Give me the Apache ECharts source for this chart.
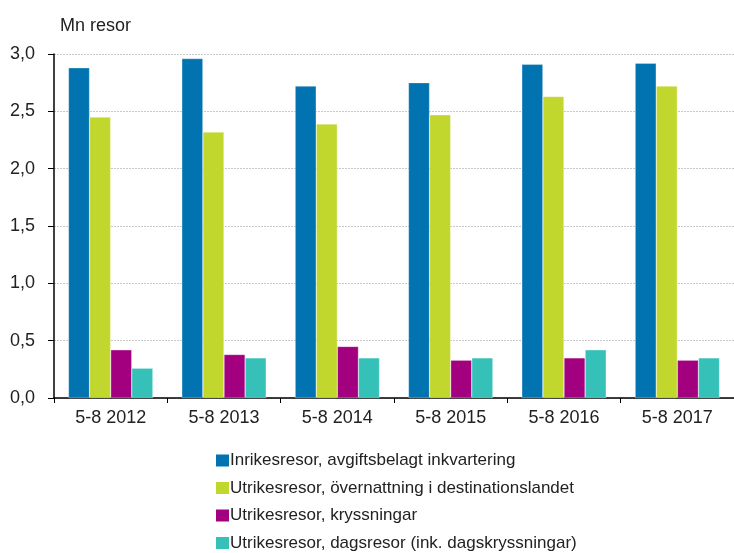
<!DOCTYPE html>
<html>
<head>
<meta charset="utf-8" />
<title></title>
<script src="https://cdn.jsdelivr.net/npm/echarts@6/dist/echarts.min.js"></script>
</head>
<body style="margin:0;background:#fff;">
<div id="chart" style="width:734px;height:553px;"></div>
<script>
var kategorier = ['5-8 2012', '5-8 2013', '5-8 2014', '5-8 2015', '5-8 2016', '5-8 2017'];
var inrikes = [2.88, 2.96, 2.72, 2.75, 2.91, 2.92];
var utrikesOvernattning = [2.45, 2.32, 2.39, 2.47, 2.63, 2.72];
var kryssningar = [0.42, 0.38, 0.45, 0.33, 0.35, 0.33];
var dagsresor = [0.26, 0.35, 0.35, 0.35, 0.42, 0.35];
var serieNamn = [
	'Inrikesresor, avgiftsbelagt inkvartering',
	'Utrikesresor, övernattning i destinationslandet',
	'Utrikesresor, kryssningar',
	'Utrikesresor, dagsresor (ink. dagskryssningar)'
];
var farger = ['#0073b0', '#c1d72e', '#a3007f', '#35c1b8'];

var myChart = echarts.init(document.getElementById('chart'));
var font = 'Liberation Sans, Arial, sans-serif';

function bar(i, data) {
	return {
		name: serieNamn[i],
		type: 'bar',
		data: data,
		barGap: '0%',
		barCategoryGap: '25.5%',
		itemStyle: { color: farger[i], borderColor: 'rgba(255,255,255,0.6)', borderWidth: 0.5 }
	};
}

var options = {
	animation: false,
	color: farger,
	textStyle: { fontFamily: font },
	title: {
		text: 'Mn resor',
		left: 55,
		top: 12,
		textStyle: { fontSize: 18, fontWeight: 'normal', color: '#222', fontFamily: font }
	},
	grid: { left: 54, top: 54, width: 683, height: 344, containLabel: false },
	legend: {
		orient: 'vertical',
		left: 216,
		top: 452,
		height: 130,
		padding: 0,
		itemWidth: 13,
		itemHeight: 12,
		itemGap: 10.5,
		itemStyle: { borderWidth: 0 },
		icon: 'rect',
		textStyle: { fontSize: 17, color: '#222', padding: [0, 0, 0, -4], fontFamily: font },
		data: serieNamn
	},
	xAxis: {
		type: 'category',
		data: kategorier,
		axisLine: { lineStyle: { color: '#000', width: 1.5 } },
		axisTick: { show: true, length: 5, lineStyle: { color: '#000' } },
		axisLabel: { fontSize: 18, color: '#222', margin: 11 }
	},
	yAxis: {
		type: 'value',
		min: 0,
		max: 3,
		interval: 0.5,
		axisLine: { show: true, lineStyle: { color: '#000', width: 1.5 } },
		axisTick: { show: true, length: 6, lineStyle: { color: '#000' } },
		axisLabel: {
			fontSize: 18, color: '#222', margin: 19,
			formatter: function (v) { return v.toFixed(1).replace('.', ','); }
		},
		splitLine: { lineStyle: { color: '#c8c8c8', type: [2, 1] } }
	},
	series: [
		bar(0, inrikes),
		bar(1, utrikesOvernattning),
		bar(2, kryssningar),
		bar(3, dagsresor)
	]
};
myChart.setOption(options);
</script>
</body>
</html>
